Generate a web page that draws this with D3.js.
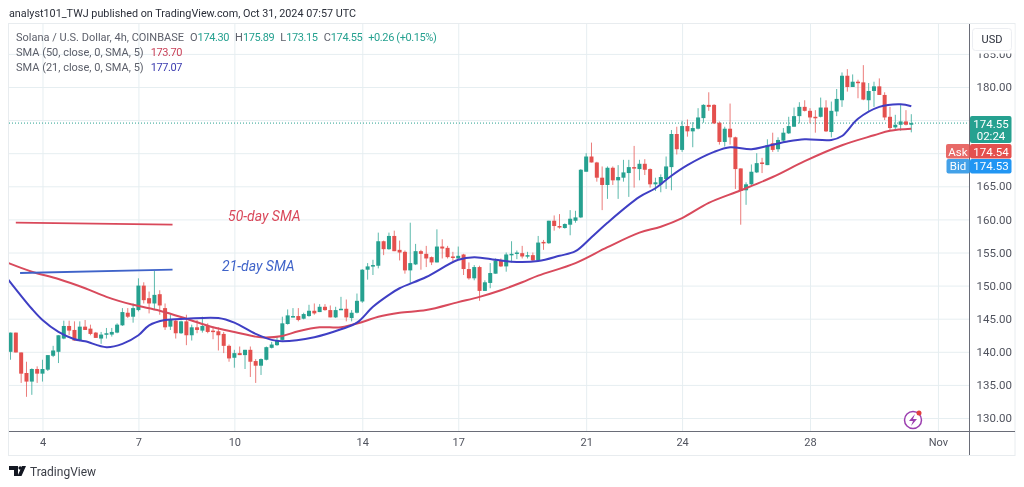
<!DOCTYPE html>
<html>
<head>
<meta charset="utf-8">
<script src="https://cdn.jsdelivr.net/npm/d3@7"></script>
<style>
  html, body { margin: 0; padding: 0; background: #fff; overflow: hidden; }
  text { font-family: Roboto, "Open Sans", sans-serif; }
  svg { filter: blur(0.35px); }
</style>
</head>
<body>
<div id="chart"></div>
<script>
// Candles, 4h each
var opens = [
  140.0,142.9,139.9,136.8,135.5,137.4,136.7,137.3,139.4,140.0,
  142.0,143.9,143.3,141.7,143.8,143.5,142.9,142.0,142.6,142.6,
  142.9,144.0,145.9,145.3,146.3,150.0,148.1,147.3,148.7,146.6,
  143.8,144.7,142.8,144.6,142.5,143.7,143.2,143.9,143.2,143.1,
  142.7,140.9,139.1,139.8,139.5,140.3,138.6,137.9,138.8,140.6,
  141.0,141.8,144.2,145.3,145.4,145.0,145.4,146.2,146.0,146.8,
  146.3,145.2,146.4,146.5,145.1,145.9,147.6,152.4,153.0,153.0,
  156.7,155.5,157.5,155.4,155.1,152.3,153.2,155.2,154.8,154.3,
  153.5,155.9,155.7,154.4,154.1,154.7,152.5,151.1,152.8,149.2,
  150.4,151.8,153.8,152.9,154.7,154.9,154.9,154.5,154.6,153.8,
  156.6,156.4,159.8,159.0,158.7,159.2,159.8,160.3,167.2,169.5,
  168.6,166.3,165.2,167.8,165.9,166.3,167.0,167.9,167.6,168.4,
  167.6,165.3,165.3,166.1,167.9,172.9,170.5,174.1,173.3,173.7,
  175.3,177.3,177.3,174.6,171.7,173.7,172.4,167.7,164.4,165.3,
  167.1,168.6,168.2,171.5,170.6,171.9,173.0,174.0,175.6,177.0,
  176.4,175.5,175.5,176.9,173.2,176.3,178.0,181.7,180.0,180.8,
  180.7,178.0,179.4,180.1,178.8,175.5,173.9,174.3,174.8,174.30
];
var highs = [
  142.9,142.9,139.9,138.5,137.5,137.8,138.8,139.5,140.9,142.5,
  144.7,144.7,144.6,144.6,144.8,144.1,143.0,143.0,143.6,143.6,
  144.3,146.6,146.6,147.3,151.1,150.5,149.1,152.2,149.3,147.3,
  145.6,144.9,144.7,145.6,144.1,144.8,145.3,144.3,143.8,143.7,
  143.0,141.1,140.3,140.8,140.3,140.8,138.9,139.0,140.8,141.5,
  142.3,145.3,146.4,146.6,146.6,145.9,147.1,147.3,147.2,147.2,
  147.0,146.8,148.3,147.9,146.3,148.8,152.5,153.4,153.9,158.0,
  156.8,158.0,158.3,156.8,155.3,159.5,156.3,155.4,156.0,154.4,
  158.5,157.0,156.0,155.1,155.9,154.8,153.5,153.1,153.0,150.8,
  153.4,154.1,154.1,155.0,156.7,155.3,156.0,155.1,155.0,157.5,
  156.9,159.8,160.6,160.8,159.4,161.4,161.3,167.6,170.0,171.6,
  168.7,168.0,168.0,168.0,168.2,169.0,169.0,171.1,169.0,169.1,
  167.7,166.3,166.8,169.5,173.5,174.0,174.9,175.1,174.7,176.8,
  177.4,179.2,177.4,174.8,174.0,177.5,172.5,167.7,165.6,168.3,
  170.0,169.3,172.1,173.1,172.4,173.8,175.5,176.9,177.7,178.0,
  176.8,176.5,178.4,178.0,177.8,179.7,182.2,182.7,181.9,181.1,
  183.3,180.6,180.8,181.3,179.2,177.0,175.8,177.3,176.5,175.89
];
var lows = [
  138.8,139.9,135.3,133.2,133.5,135.3,135.5,137.1,139.2,138.3,
  141.9,142.5,141.7,141.6,143.3,142.5,142.1,141.2,142.0,142.3,
  142.8,143.9,145.1,144.4,146.1,147.3,145.8,146.4,145.6,143.3,
  143.3,142.0,142.7,141.0,141.7,142.8,142.9,142.8,141.9,140.2,
  139.8,138.5,137.6,139.5,137.4,136.2,135.3,136.5,138.7,140.5,
  140.9,141.7,144.1,145.2,144.6,144.9,145.3,145.6,146.0,146.2,
  145.2,145.1,146.3,144.6,144.6,145.8,147.4,150.9,151.6,152.6,
  154.6,155.4,155.2,153.8,151.8,150.4,153.1,152.4,152.8,153.1,
  153.5,154.1,154.1,153.6,154.0,151.6,150.9,150.8,147.7,149.2,
  149.6,151.8,152.8,152.1,153.5,154.0,154.1,154.1,153.7,153.8,
  155.4,156.3,158.3,158.6,158.6,157.6,159.5,160.2,167.2,168.6,
  165.7,161.4,163.1,165.2,163.1,165.7,163.4,164.8,165.9,166.7,
  164.8,164.3,164.1,164.6,164.4,169.8,170.2,172.5,170.9,173.6,
  174.6,176.4,174.4,171.3,171.0,171.3,164.6,159.2,162.2,165.2,
  167.0,167.0,168.2,170.2,170.2,171.7,172.9,174.0,174.5,176.3,
  174.5,173.1,175.4,173.2,172.4,175.6,177.0,179.3,180.0,178.3,
  178.0,176.4,177.0,178.8,175.0,173.4,173.4,173.4,174.2,173.15
];
var closes = [
  142.9,139.9,136.7,135.5,137.4,136.7,137.4,139.5,140.2,142.5,
  143.9,143.2,141.7,143.8,143.3,142.7,142.1,142.6,142.8,143.0,
  144.1,146.0,145.3,146.6,150.0,147.8,147.3,148.6,147.0,143.7,
  144.8,142.8,144.6,142.5,143.7,143.3,143.9,143.0,143.1,142.5,
  140.9,139.0,139.8,139.5,140.3,138.5,137.9,138.9,140.7,141.1,
  141.8,144.3,145.5,145.4,144.8,145.7,146.2,145.8,146.8,146.3,
  145.2,146.3,146.5,145.2,145.9,147.7,152.4,152.9,153.1,156.7,
  155.5,157.5,155.2,155.0,152.3,153.4,155.2,154.8,154.1,153.5,
  155.9,155.6,154.3,154.3,154.5,152.5,151.1,152.8,149.2,150.5,
  151.9,153.8,152.9,154.7,154.8,155.0,154.4,154.6,153.8,156.5,
  156.5,159.8,159.0,158.8,159.3,160.1,160.3,167.5,169.5,168.6,
  166.3,165.2,167.8,165.9,166.4,167.1,167.9,167.7,168.4,167.5,
  165.3,165.6,166.4,168.0,172.9,170.6,174.1,173.3,173.8,175.4,
  177.3,177.0,174.5,171.7,173.7,172.4,167.6,164.3,165.3,167.2,
  168.5,168.5,171.2,170.5,172.0,173.1,174.1,175.6,177.0,176.4,
  175.4,175.4,176.9,173.3,176.4,178.2,181.7,180.0,180.8,180.7,
  178.1,179.4,180.1,178.8,175.4,173.8,174.3,174.8,174.3,174.55
];

var sma21Index = [-1,4,6,9,12,14,18,21,24,26,29,33,39,42,46,49,51,57,62,65,68,71,73,78,84,87,91,94,99,103,106,109,112,118,121,124,127,132,135,139,142,146,149,154,156,159,163,167,169];
var sma21Values = [151.5,146.5,144.8,143.0,141.9,141.6,140.7,141.2,142.5,144.0,144.8,145.0,145.1,144.4,142.7,141.8,141.6,142.2,143.4,144.4,146.8,148.6,149.6,151.3,153.9,154.3,153.9,153.6,153.7,154.5,155.2,157.3,159.5,163.4,164.7,166.6,168.2,170.2,170.9,170.6,171.1,171.8,172.1,172.0,172.6,175.2,177.0,177.4,177.1];
var sma50Index = [-1,4,9,14,18,23,28,33,38,42,47,51,54,58,62,66,69,73,78,84,88,92,96,99,106,112,118,122,126,131,137,143,149,156,162,165,169];
var sma50Values = [153.6,152.1,151.0,149.6,148.3,147.1,146.2,145.0,143.7,143.0,142.2,142.4,143.1,143.7,143.7,144.5,145.3,145.9,146.3,147.5,148.3,149.3,150.5,151.5,153.4,155.8,158.0,158.9,160.2,162.5,164.4,166.4,168.8,171.2,172.7,173.4,173.7];

// Axis ticks
var priceTicks = [185, 180, 165, 160, 155, 150, 145, 140, 135, 130];
var priceGrid = [185, 180, 175, 170, 165, 160, 155, 150, 145, 140, 135, 130];
var dateTickIndex = [6, 24, 42, 66, 84, 108, 126, 150, 174];
var dateTickLabels = ["4", "7", "10", "14", "17", "21", "24", "28", "Nov"];

// Hand drawn marks on the published chart: [candle, price]
var note50Line = [[1, 159.5], [30.4, 159.2]];
var note21Line = [[1.8, 151.9], [30.4, 152.4]];

var lastPrice = 174.55;
var askPrice = "174.54";
var bidPrice = "174.53";
var countdown = "02:24";

var upColor = "#26a190";
var downColor = "#e4504e";
var sma21Color = "#3f3fc4";
var sma50Color = "#d84a5c";
var gridColor = "#e6eef1";
var textColor = "#50535e";

var svgWidth = 1024;
var svgHeight = 487;

// Plot box
var plot = { left: 9, right: 969.5, top: 24, bottom: 431.5 };

var svg = d3.select("#chart")
  .append("svg")
  .attr("width", svgWidth)
  .attr("height", svgHeight)
  .style("display", "block");

var xScale = d3.scaleLinear().domain([0, 169]).range([10.5, 911.3]);
var yScale = d3.scaleLinear().domain([130, 180]).range([418, 87]);

svg.append("defs").append("clipPath")
  .attr("id", "plotClip")
  .append("rect")
  .attr("x", plot.left)
  .attr("y", plot.top)
  .attr("width", plot.right - plot.left)
  .attr("height", plot.bottom - plot.top);

// Grid
var gridX = svg.append("g")
  .attr("transform", `translate(0, ${plot.bottom})`)
  .call(d3.axisBottom(xScale).tickValues(dateTickIndex).tickSize(-(plot.bottom - plot.top)).tickFormat(""));
gridX.select(".domain").remove();
gridX.selectAll("line").attr("stroke", gridColor);

var gridY = svg.append("g")
  .attr("transform", `translate(${plot.left}, 0)`)
  .call(d3.axisRight(yScale).tickValues(priceGrid).tickSize(plot.right - plot.left).tickFormat(""));
gridY.select(".domain").remove();
gridY.selectAll("line").attr("stroke", gridColor);

// Outer frame
svg.append("rect")
  .attr("x", 8.5).attr("y", 23.5)
  .attr("width", 1006.5).attr("height", 432)
  .attr("fill", "none")
  .attr("stroke", "#e8ecef");

var chartGroup = svg.append("g").attr("clip-path", "url(#plotClip)");

// Last price line
chartGroup.append("line")
  .attr("x1", plot.left).attr("x2", plot.right)
  .attr("y1", yScale(lastPrice)).attr("y2", yScale(lastPrice))
  .attr("stroke", upColor)
  .attr("stroke-width", 1)
  .attr("stroke-dasharray", "1 2");

// Candles
var candles = chartGroup.selectAll("g.candle")
  .data(d3.range(opens.length))
  .enter()
  .append("g")
  .attr("class", "candle");

candles.append("line")
  .attr("x1", d => xScale(d))
  .attr("x2", d => xScale(d))
  .attr("y1", d => yScale(highs[d]))
  .attr("y2", d => yScale(lows[d]))
  .attr("stroke", d => closes[d] >= opens[d] ? upColor : downColor)
  .attr("stroke-opacity", 0.75)
  .attr("stroke-width", 1);

candles.append("rect")
  .attr("x", d => xScale(d) - 2)
  .attr("width", 4)
  .attr("y", d => yScale(Math.max(opens[d], closes[d])))
  .attr("height", d => Math.max(1.5, Math.abs(yScale(opens[d]) - yScale(closes[d]))))
  .attr("fill", d => closes[d] >= opens[d] ? upColor : downColor);

// SMA lines
var smaLine = d3.line()
  .x(d => xScale(d[0]))
  .y(d => yScale(d[1]))
  .curve(d3.curveCatmullRom);

chartGroup.append("path")
  .attr("d", smaLine(d3.zip(sma50Index, sma50Values)))
  .attr("fill", "none")
  .attr("stroke", sma50Color)
  .attr("stroke-width", 2);

chartGroup.append("path")
  .attr("d", smaLine(d3.zip(sma21Index, sma21Values)))
  .attr("fill", "none")
  .attr("stroke", sma21Color)
  .attr("stroke-width", 2);

// Hand drawn notes
var noteLine = d3.line().x(d => xScale(d[0])).y(d => yScale(d[1]));

chartGroup.append("path")
  .attr("d", noteLine(note50Line))
  .attr("fill", "none")
  .attr("stroke", "#d9485a")
  .attr("stroke-width", 1.8);

chartGroup.append("path")
  .attr("d", noteLine(note21Line))
  .attr("fill", "none")
  .attr("stroke", "#3f63c9")
  .attr("stroke-width", 1.8);

svg.append("text")
  .attr("x", 228).attr("y", 221)
  .attr("fill", "#d9485a")
  .style("font-style", "italic")
  .style("font-size", "14px")
  .text("50-day SMA");

svg.append("text")
  .attr("x", 222).attr("y", 271)
  .attr("fill", "#3f63c9")
  .style("font-style", "italic")
  .style("font-size", "14px")
  .text("21-day SMA");

// Axis lines
svg.append("line")
  .attr("x1", plot.left).attr("x2", 1015)
  .attr("y1", plot.bottom).attr("y2", plot.bottom)
  .attr("stroke", "#6a6d78");
svg.append("line")
  .attr("x1", plot.right).attr("x2", plot.right)
  .attr("y1", plot.top).attr("y2", 455)
  .attr("stroke", "#6a6d78");

// Date axis
var xAxis = svg.append("g")
  .attr("transform", `translate(0, ${plot.bottom})`)
  .call(d3.axisBottom(xScale)
    .tickValues(dateTickIndex)
    .tickSize(0)
    .tickPadding(7)
    .tickFormat((d, i) => dateTickLabels[i]));
xAxis.select(".domain").remove();
xAxis.selectAll("text")
  .attr("fill", textColor)
  .style("font-size", "11px")
  .style("font-family", "Roboto, sans-serif");

// Price axis
var yAxis = svg.append("g")
  .attr("transform", `translate(${plot.right}, 0)`)
  .call(d3.axisRight(yScale)
    .tickValues(priceTicks)
    .tickSize(0)
    .tickPadding(7)
    .tickFormat(d3.format(".2f")));
yAxis.select(".domain").remove();
yAxis.selectAll("text")
  .attr("fill", textColor)
  .style("font-size", "11.5px")
  .style("font-family", "Roboto, sans-serif");

// Currency button hides the top of the 185 label
svg.append("rect")
  .attr("x", 970).attr("y", 24.5)
  .attr("width", 44.5).attr("height", 29)
  .attr("fill", "#fff");
svg.append("rect")
  .attr("x", 972.5).attr("y", 28.5)
  .attr("width", 39).attr("height", 22).attr("rx", 3)
  .attr("fill", "#fff")
  .attr("stroke", "#eceef2");
svg.append("text")
  .attr("x", 992).attr("y", 43)
  .attr("text-anchor", "middle")
  .attr("fill", "#2a2e39")
  .style("font-size", "11px")
  .text("USD");

// Price tags
function priceTag(x, y, w, h, fill, opacity) {
  svg.append("rect")
    .attr("x", x).attr("y", y)
    .attr("width", w).attr("height", h).attr("rx", 2)
    .attr("fill", fill)
    .attr("fill-opacity", opacity);
}
function tagText(x, y, str, anchor) {
  svg.append("text")
    .attr("x", x).attr("y", y)
    .attr("text-anchor", anchor)
    .attr("fill", "#fff")
    .style("font-size", "11.5px")
    .text(str);
}
priceTag(970, 116, 41.5, 27, "#26a190", 1);
tagText(991, 128, d3.format(".2f")(lastPrice), "middle");
tagText(991, 140, countdown, "middle");
priceTag(946, 144, 24, 14.5, downColor, 0.85);
tagText(958, 155.5, "Ask", "middle");
priceTag(970, 144, 41.5, 14.5, downColor, 1);
tagText(991, 155.5, askPrice, "middle");
priceTag(946.5, 159, 23.5, 14.5, "#2f97e6", 0.9);
tagText(958, 170, "Bid", "middle");
priceTag(970, 159, 41.5, 14.5, "#2196f3", 1);
tagText(991, 170, bidPrice, "middle");

// Header
svg.append("text")
  .attr("x", 9).attr("y", 17)
  .attr("fill", "#2a2e39")
  .style("font-size", "10.8px")
  .text("analyst101_TWJ published on TradingView.com, Oct 31, 2024 07:57 UTC");

// Legend, pieces are [text, colour]
var legendRows = [
  [["Solana / U.S. Dollar, 4h, COINBASE", 0], ["O", 0], ["174.30", 1], ["H", 0], ["175.89", 1], ["L", 0], ["173.15", 1], ["C", 0], ["174.55", 1], ["+0.26 (+0.15%)", 1]],
  [["SMA (50, close, 0, SMA, 5)", 0], ["173.70", 2]],
  [["SMA (21, close, 0, SMA, 5)", 0], ["177.07", 3]]
];
var legendColors = ["#5d606b", "#26a190", "#c9435a", "#3c3cb0"];

legendRows.forEach(function(row, r) {
  var label = svg.append("text")
    .attr("x", 16)
    .attr("y", 41 + r * 15)
    .style("font-size", "11px");
  row.forEach(function(piece, p) {
    // a value sits right against its O/H/L/C letter
    var afterLetter = p > 0 && row[p - 1][0].length === 1;
    label.append("tspan")
      .attr("dx", p > 0 && !afterLetter ? (r === 0 ? 6 : 7) : 0)
      .attr("fill", legendColors[piece[1]])
      .style("letter-spacing", piece[1] !== 0 ? "-0.4px" : "0")
      .text(piece[0]);
  });
});

// Purple flash icon
svg.append("circle")
  .attr("cx", 913).attr("cy", 420).attr("r", 8.5)
  .attr("fill", "#fff")
  .attr("stroke", "#9c3fb0")
  .attr("stroke-width", 1.5);
svg.append("path")
  .attr("d", "M915 414 L909 421 L913 421 L911 426 L917 419 L913 419 Z")
  .attr("fill", "#9c3fb0");
svg.append("circle")
  .attr("cx", 919).attr("cy", 413).attr("r", 2.5)
  .attr("fill", "#e2403f");

// TradingView logo
svg.append("path")
  .attr("d", "M9 466 H18 V476 H14 V470 H9 Z M26 466 L21.5 476 H17.5 L22 466 Z")
  .attr("fill", "#131722");
svg.append("circle")
  .attr("cx", 20.2).attr("cy", 468).attr("r", 1.8)
  .attr("fill", "#131722");
svg.append("text")
  .attr("x", 30).attr("y", 475.5)
  .attr("fill", "#3a3d46")
  .style("font-size", "12px")
  .text("TradingView");
</script>
</body>
</html>
